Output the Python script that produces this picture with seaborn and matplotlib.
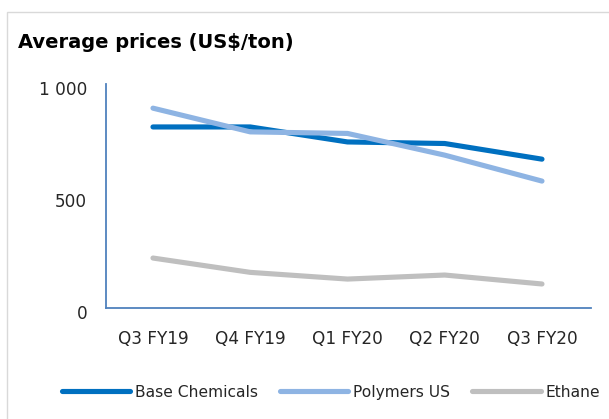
import matplotlib.pyplot as plt
import matplotlib.patches as mpatches
import matplotlib.transforms as mtransforms
import pandas as pd
import seaborn as sns

# data
quarters = ["Q3 FY19", "Q4 FY19", "Q1 FY20", "Q2 FY20", "Q3 FY20"]
base_chemicals = [808, 808, 741, 734, 664]
polymers_us = [892, 786, 779, 682, 566]
ethane = [222, 158, 128, 146, 106]

series = ["Base Chemicals", "Polymers US", "Ethane"]
colors = ["#0070c0", "#8eb4e3", "#bfbfbf"]

df = pd.DataFrame({
    "quarter": quarters * 3,
    "price": base_chemicals + polymers_us + ethane,
    "series": [s for s in series for _ in quarters],
})

sns.set_theme(style="white")
plt.rcParams["font.family"] = ["DejaVu Sans"]

W, H = 609, 419
fig = plt.figure(figsize=(W / 100, H / 100), dpi=100)
ax = fig.add_axes([106 / W, 1 - 307.7 / H, 485 / W, 223.7 / H])

sns.lineplot(data=df, x="quarter", y="price", hue="series", palette=colors,
             linewidth=3.7, sort=False, ax=ax, legend=False)
for line in ax.lines:
    line.set_solid_capstyle("round")

ax.set_xlim(-0.483, 4.504)
ax.set_ylim(0, 1000)
ax.set_yticks([0, 500, 1000])
ax.set_yticklabels(["0", "500", "1 000"])
ax.set_xlabel("")
ax.set_ylabel("")
for side in ["top", "right"]:
    ax.spines[side].set_visible(False)
for side in ["left", "bottom"]:
    ax.spines[side].set_color("#4f81bd")
    ax.spines[side].set_linewidth(1.3)
ax.tick_params(axis="both", length=0, labelsize=12.2, colors="#262626")
ax.tick_params(axis="x", pad=16)
ax.tick_params(axis="y", pad=13.5)
shift = mtransforms.ScaledTranslation(0, -4 / 100, fig.dpi_scale_trans)
for lab in ax.get_yticklabels():
    lab.set_transform(lab.get_transform() + shift)

fig.text(18 / W, 1 - 42 / H, "Average prices (US$/ton)", fontsize=14,
         fontweight="bold", color="black", va="center", ha="left")

handles = [plt.Line2D([], [], color=c, linewidth=3.7, solid_capstyle="round") for c in colors]
fig.legend(handles, series, loc="center", bbox_to_anchor=(331 / W, 1 - 392 / H),
           ncol=3, frameon=False, fontsize=11.2, handlelength=4.4,
           handletextpad=0.32, columnspacing=1.4, labelcolor="#262626")

fig.patches.append(mpatches.Rectangle((7 / W, -0.1), 1.2, 1 - 12 / H + 0.1,
                                      transform=fig.transFigure, fill=False,
                                      edgecolor="#d9d9d9", linewidth=1))

fig.savefig("out.png", dpi=100)
